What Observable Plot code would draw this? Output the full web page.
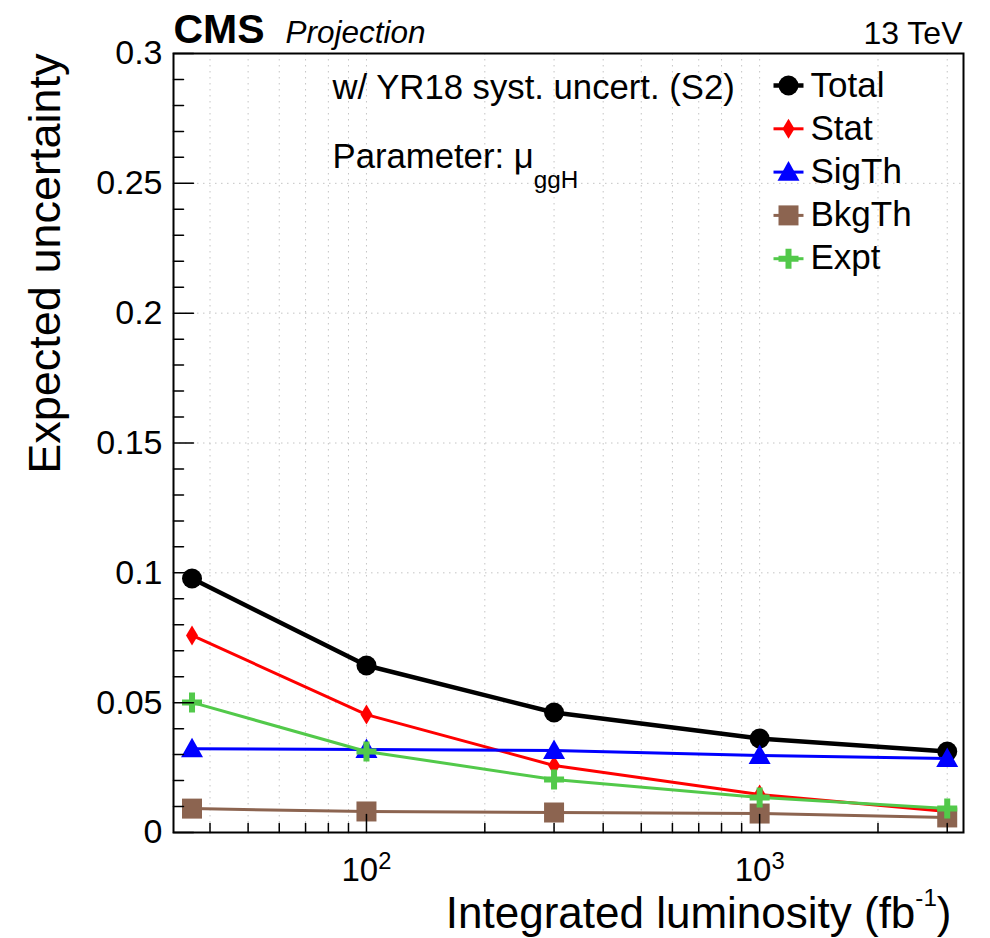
<!DOCTYPE html>
<html><head><meta charset="utf-8">
<script src="https://cdn.jsdelivr.net/npm/d3@7"></script>
<script src="https://cdn.jsdelivr.net/npm/@observablehq/plot@0.6"></script>
<style>
body{margin:0;background:#fff;}
#chart svg{display:block;}
</style>
</head><body><div id="chart"></div>
<script>
// ---------- data ----------
const lumi = [36, 100, 300, 1000, 3000];
const seriesNames = ["Total", "Stat", "SigTh", "BkgTh", "Expt"];
const total = [0.0978, 0.0643, 0.0462, 0.0362, 0.0312];
const stat  = [0.0759, 0.0454, 0.0258, 0.0146, 0.0081];
const sigTh = [0.0323, 0.0320, 0.0316, 0.0297, 0.0285];
const bkgTh = [0.0092, 0.0081, 0.0077, 0.0073, 0.0058];
const expt  = [0.0501, 0.0312, 0.0204, 0.0135, 0.0092];
const seriesValues = [total, stat, sigTh, bkgTh, expt];

const xMajorTicks = [100, 1000];
const xMinorTicks = [40, 50, 60, 70, 80, 90, 200, 300, 400, 500, 600, 700, 800, 900, 2000, 3000];
const yMajorTicks = [0, 0.05, 0.1, 0.15, 0.2, 0.25, 0.3];
const yMinorTicks = [0.01, 0.02, 0.03, 0.04, 0.06, 0.07, 0.08, 0.09, 0.11, 0.12, 0.13, 0.14,
                     0.16, 0.17, 0.18, 0.19, 0.21, 0.22, 0.23, 0.24, 0.26, 0.27, 0.28, 0.29];
const yGridTicks = [0.05, 0.1, 0.15, 0.2, 0.25];

// ---------- styles ----------
function sym(fn){ return {draw(ctx, size){ const r = Math.sqrt(size/Math.PI); fn(ctx, r); }}; }
const circleSym = sym((c,r)=>{ c.moveTo(r,0); c.arc(0,0,r,0,2*Math.PI); c.closePath(); });
const diamondSym = sym((c,r)=>{ c.moveTo(0,-r); c.lineTo(0.6*r,0); c.lineTo(0,r); c.lineTo(-0.6*r,0); c.closePath(); });
const triangleSym = sym((c,r)=>{ c.moveTo(0,-r); c.lineTo(r,0.78*r); c.lineTo(-r,0.78*r); c.closePath(); });
const squareSym = sym((c,r)=>{ c.rect(-r,-r,2*r,2*r); });
const plusSym = sym((c,r)=>{ const t=0.3*r; c.moveTo(-t,-r); c.lineTo(t,-r); c.lineTo(t,-t); c.lineTo(r,-t); c.lineTo(r,t); c.lineTo(t,t); c.lineTo(t,r); c.lineTo(-t,r); c.lineTo(-t,t); c.lineTo(-r,t); c.lineTo(-r,-t); c.lineTo(-t,-t); c.closePath(); });
const lineSym = sym((c,r)=>{ c.moveTo(-r,0); c.lineTo(r,0); });
const tickShape = {draw(ctx, l){ ctx.moveTo(0,0); ctx.lineTo(0,-l); }};

const colors = ["#000000", "#ff0000", "#0000ff", "#8c6450", "#52c94a"];
const symbols = [circleSym, diamondSym, triangleSym, squareSym, plusSym];
const radii = [10, 10, 11, 10, 10];
const widths = [4.5, 3, 3, 3, 3];

const rows = seriesNames.map((name, i) => lumi.map((l, j) => ({name, lumi: l, value: seriesValues[i][j]})));

const FONT = "'Liberation Sans', Arial, Helvetica, sans-serif";
const fa = {x: null, y: null};

const marks = [
  Plot.ruleX([...xMinorTicks, ...xMajorTicks], {stroke: "#c4c4c4", strokeWidth: 1, strokeDasharray: "1.5,4.5"}),
  Plot.ruleY(yGridTicks, {stroke: "#c4c4c4", strokeWidth: 1, strokeDasharray: "1.5,4.5"})
];
seriesNames.forEach((name, i) => {
  marks.push(Plot.line(rows[i], {x: "lumi", y: "value", stroke: colors[i], strokeWidth: widths[i]}));
  marks.push(Plot.dot(rows[i], {x: "lumi", y: "value", symbol: symbols[i], r: radii[i], fill: colors[i], stroke: "none"}));
});
marks.push(
  Plot.frame({stroke: "black", strokeWidth: 2}),
  Plot.vectorX(xMinorTicks, {x: d => d, frameAnchor: "bottom", length: 9, anchor: "start", shape: tickShape, stroke: "black", strokeWidth: 1.5}),
  Plot.vectorX(xMajorTicks, {x: d => d, frameAnchor: "bottom", length: 18, anchor: "start", shape: tickShape, stroke: "black", strokeWidth: 1.5}),
  Plot.vectorY(yMinorTicks, {y: d => d, frameAnchor: "left", length: 10, rotate: 90, anchor: "start", shape: tickShape, stroke: "black", strokeWidth: 1.5}),
  Plot.vectorY(yMajorTicks, {y: d => d, frameAnchor: "left", length: 20, rotate: 90, anchor: "start", shape: tickShape, stroke: "black", strokeWidth: 1.5}),
  Plot.axisX({ticks: xMajorTicks, tickSize: 0, tickPadding: 25, fontSize: 33, label: null,
              tickFormat: d => "10^{" + Math.round(Math.log10(d)) + "}"}),
  Plot.axisY({ticks: yMajorTicks, tickSize: 0, tickPadding: 11, fontSize: 34, label: null,
              tickFormat: d => String(d)}),
  // axis titles
  Plot.text(["Integrated luminosity (fb^{-1})"], {...fa, text: d => d, frameAnchor: "bottom-right", textAnchor: "end", lineAnchor: "bottom", dx: -12, dy: 95, fontSize: 44}),
  Plot.text(["Expected uncertainty"], {...fa, text: d => d, frameAnchor: "top-left", textAnchor: "end", lineAnchor: "bottom", rotate: -90, dx: -114, dy: 0, fontSize: 45}),
  // header
  Plot.text(["CMS"], {...fa, text: d => d, frameAnchor: "top-left", textAnchor: "start", lineAnchor: "bottom", dx: 0, dy: -11, fontSize: 41, fontWeight: "bold"}),
  Plot.text(["Projection"], {...fa, text: d => d, frameAnchor: "top-left", textAnchor: "start", lineAnchor: "bottom", dx: 112, dy: -11, fontSize: 31.5, fontStyle: "italic"}),
  Plot.text(["13 TeV"], {...fa, text: d => d, frameAnchor: "top-right", textAnchor: "end", lineAnchor: "bottom", dx: -1, dy: -10, fontSize: 32}),
  // annotations
  Plot.text(["w/ YR18 syst. uncert. (S2)"], {...fa, text: d => d, frameAnchor: "top-left", textAnchor: "start", lineAnchor: "bottom", dx: 159, dy: 45, fontSize: 34.7}),
  Plot.text(["Parameter: \u03bc_{ggH}"], {...fa, text: d => d, frameAnchor: "top-left", textAnchor: "start", lineAnchor: "bottom", dx: 159, dy: 114, fontSize: 34.7})
);
// legend
seriesNames.forEach((name, i) => {
  const dyM = 32 + i * 43.3;
  marks.push(Plot.dot([name], {...fa, frameAnchor: "top-right", dx: -175, dy: dyM, symbol: lineSym, r: 15, stroke: colors[i], strokeWidth: widths[i], fill: "none"}));
  marks.push(Plot.dot([name], {...fa, frameAnchor: "top-right", dx: -175, dy: dyM, symbol: symbols[i], r: radii[i], fill: colors[i], stroke: "none"}));
  marks.push(Plot.text([name], {...fa, text: d => d, frameAnchor: "top-right", textAnchor: "start", lineAnchor: "bottom", dx: -153, dy: 43 + i * 43, fontSize: 35}));
});

const chart = Plot.plot({
  width: 990, height: 938,
  marginLeft: 173, marginRight: 27, marginTop: 53, marginBottom: 106,
  style: {fontFamily: FONT, color: "black", background: "white", overflow: "visible"},
  x: {type: "log", domain: [32.3, 3300], axis: null},
  y: {type: "linear", domain: [0, 0.3], axis: null},
  marks
});
document.getElementById("chart").appendChild(chart);

// ---------- super/subscript markup ----------
const markupCfg = {
  "10": {sup: [0.72, 0.36]},
  "Integrated luminosity (fb": {sup: [0.55, 0.5]},
  "Parameter: \u03bc": {sub: [0.7, 0.6]}
};
function applyMarkup(root){
  root.querySelectorAll("text").forEach(t => {
    const s = t.textContent;
    if (!/[\^_]\{/.test(s)) return;
    const fs = parseFloat(getComputedStyle(t).fontSize);
    const head = s.split(/[\^_]\{/)[0];
    const cfg = markupCfg[head] || {};
    const sup = cfg.sup || [0.65, 0.45], sub = cfg.sub || [0.7, 0.5];
    const parts = [];
    const re = /([\^_])\{([^}]*)\}/g;
    let last = 0, m;
    while ((m = re.exec(s))) {
      if (m.index > last) parts.push({t: s.slice(last, m.index), k: ""});
      parts.push({t: m[2], k: m[1]});
      last = re.lastIndex;
    }
    if (last < s.length) parts.push({t: s.slice(last), k: ""});
    t.textContent = "";
    let off = 0;
    parts.forEach(p => {
      const ts = document.createElementNS("http://www.w3.org/2000/svg", "tspan");
      let target = 0;
      if (p.k === "^") { target = -sup[1] * fs; ts.setAttribute("font-size", sup[0] * fs); }
      else if (p.k === "_") { target = sub[1] * fs; ts.setAttribute("font-size", sub[0] * fs); }
      const dy = target - off;
      if (dy !== 0) ts.setAttribute("dy", dy);
      off = target;
      ts.textContent = p.t;
      t.appendChild(ts);
    });
  });
}
applyMarkup(chart);
</script>
</body></html>
